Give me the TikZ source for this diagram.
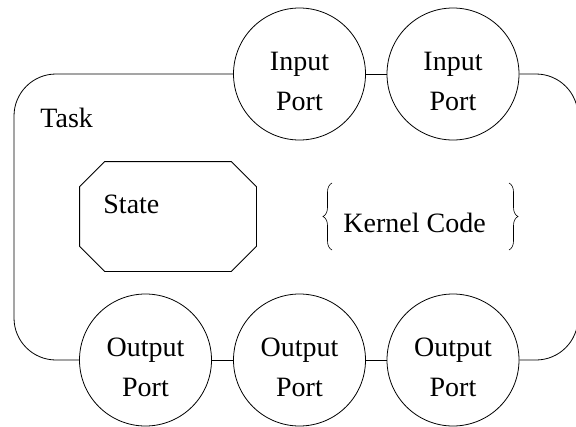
\documentclass[tikz,border=0pt]{standalone}
\usepackage{fontspec}
\setmainfont{Liberation Serif}
\usetikzlibrary{decorations.pathreplacing}
\begin{document}
\begin{tikzpicture}[x=1pt,y=-1pt,line width=0.8pt,
  port/.style={circle,draw,minimum size=132pt,inner sep=0pt},
  lbl/.style={font=\fontsize{28}{40}\selectfont,align=center,inner sep=0pt},
  statebox/.style={minimum width=176pt,minimum height=109pt,inner sep=0pt},
  frame/.style={rounded corners=42pt},
  curly/.style={decorate,decoration={brace,amplitude=9pt},line width=0.6pt}]
\useasboundingbox (0,0) rectangle (576,426);
\begin{scope}
\clip (0,0) rectangle (576,426);

% ports
\node[port] (ip1) at (299.5,74) {};
\node[port] (ip2) at (453,74) {};
\node[port] (op1) at (145.5,360) {};
\node[port] (op2) at (299.5,360) {};
\node[port] (op3) at (453,360) {};

\node[lbl] (ip1t) at ([yshift=-7pt]ip1.center) {Input\\Port};
\node[lbl] (ip2t) at ([yshift=-7pt]ip2.center) {Input\\Port};
\node[lbl] (op1t) at ([yshift=-7pt]op1.center) {Output\\Port};
\node[lbl] (op2t) at ([yshift=-7pt]op2.center) {Output\\Port};
\node[lbl] (op3t) at ([yshift=-7pt]op3.center) {Output\\Port};

% task outline, broken by the ports
\coordinate (tl) at (14,74);
\coordinate (bl) at (14,360);
\coordinate (tr) at (578,74);
\coordinate (br) at (578,360);
\draw[frame] (ip1.west) -- (tl) -- (bl) -- (op1.west);
\draw[frame] (ip2.east) -- (tr) -- (br) -- (op3.east);
\draw (ip1.east) -- (ip2.west);
\draw (op1.east) -- (op2.west);
\draw (op2.east) -- (op3.west);

\node[lbl,anchor=base west] (task) at (40,127) {Task};

% state: octagon with 25pt chamfers
\node[statebox] (state) at (168,216.5) {};
\draw ([xshift=25pt]state.north west) -- ([xshift=-25pt]state.north east)
  -- ([yshift=-25pt]state.north east) -- ([yshift=25pt]state.south east)
  -- ([xshift=-25pt]state.south east) -- ([xshift=25pt]state.south west)
  -- ([yshift=25pt]state.south west) -- ([yshift=-25pt]state.north west) -- cycle;
\node[lbl,anchor=base west] (statet) at (103,213) {State};

% kernel code
\node[lbl,anchor=base west] (kernel) at (343,232) {Kernel Code};
\coordinate (lb1) at (332,250);
\coordinate (lb2) at (332,183);
\coordinate (rb1) at (509,183);
\coordinate (rb2) at (509,250);
\draw[curly] (lb1) -- (lb2);
\draw[curly] (rb1) -- (rb2);
\end{scope}
\end{tikzpicture}
\end{document}
